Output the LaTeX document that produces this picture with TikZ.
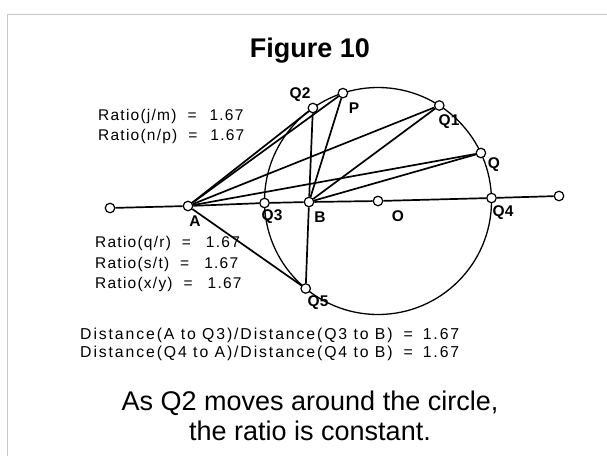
\documentclass[tikz,border=0pt]{standalone}
\usepackage{fontspec}
\setmainfont{Liberation Sans}
\newfontfamily\distfont[LetterSpace=12]{Liberation Sans}
\newfontfamily\ratiofont[LetterSpace=8]{Liberation Sans}
\newfontfamily\lblfont[LetterSpace=2]{Liberation Sans}
\begin{document}
\begin{tikzpicture}[x=1pt,y=-1pt,
  mk/.style={circle,draw,fill=white,line width=1.2pt,inner sep=0pt,minimum size=9.5pt},
  seg/.style={line width=1.7pt},
  lbl/.style={inner sep=0pt,font=\fontsize{15.5}{15.5}\selectfont\lblfont\bfseries},
  ratio/.style={inner sep=0pt,anchor=base west,font=\fontsize{15.5}{15.5}\selectfont\ratiofont},
  dist/.style={inner sep=0pt,anchor=base west,font=\fontsize{15.8}{15.8}\selectfont\distfont},
  big/.style={inner sep=0pt,anchor=base,font=\fontsize{27}{27}\selectfont},
  frame/.style={draw=black!22,line width=1pt}]
\useasboundingbox (0,0) rectangle (607,456);
% frame of the scanned panel
\coordinate (f1) at (7,456);
\coordinate (f2) at (7,14);
\coordinate (f3) at (607,14);
\draw[frame] (f1) -- (f2) -- (f3);
% title
\node[inner sep=0pt,anchor=base,font=\fontsize{27}{27}\selectfont\bfseries] (title) at (310,57) {Figure 10};
% circle
\coordinate (Oc) at (378,201);
\draw[line width=1.3pt] (Oc) circle[radius=113.5pt];
% points
\node[mk] (L)  at (110,208) {};
\node[mk] (A)  at (188,206) {};
\node[mk] (Q3) at (264.5,203) {};
\node[mk] (B)  at (309,202) {};
\node[mk] (O)  at (378,201) {};
\node[mk] (Q4) at (491.5,198) {};
\node[mk] (R)  at (559,196) {};
\node[mk] (Q2) at (312.9,108) {};
\node[mk] (P)  at (342.9,93.1) {};
\node[mk] (Q1) at (439.3,105.5) {};
\node[mk] (Q)  at (480.9,153) {};
\node[mk] (Q5) at (305.7,288.5) {};
% main line
\draw[seg] (L) -- (A) -- (Q3) -- (B) -- (O) -- (Q4) -- (R);
% lines from A and B
\foreach \t in {Q2,P,Q1,Q,Q5} {
  \draw[seg] (A) -- (\t);
  \draw[seg] (B) -- (\t);
}
% point labels
\node[lbl] (lQ2) at (300,95) {Q2};
\node[lbl] (lP)  at (354,108) {P};
\node[lbl] (lQ1) at (449,122) {Q1};
\node[lbl] (lQ)  at (494,165) {Q};
\node[lbl] (lQ4) at (503,213) {Q4};
\node[lbl] (lQ3) at (272,217) {Q3};
\node[lbl] (lB)  at (320,217) {B};
\node[lbl] (lO)  at (398,216) {O};
\node[lbl] (lA)  at (195,221) {A};
\node[lbl] (lQ5) at (318,303) {Q5};
% ratio texts
\node[ratio] (r1) at (98,120) {Ratio(j/m)\hspace{11pt}=\hspace{13pt}1.67};
\node[ratio] (r2) at (98,140) {Ratio(n/p)\hspace{11pt}=\hspace{13pt}1.67};
\node[ratio] (r3) at (95,247) {Ratio(q/r)\hspace{11pt}=\hspace{15pt}1.67};
\node[ratio] (r4) at (95,268) {Ratio(s/t)\hspace{11pt}=\hspace{15pt}1.67};
\node[ratio] (r5) at (95,288) {Ratio(x/y)\hspace{11pt}=\hspace{15pt}1.67};
% distance texts
\node[dist] (d1) at (80,339) {Distance(A to Q3)/Distance(Q3 to B)\hspace{11pt}=\hspace{10pt}1.67};
\node[dist] (d2) at (80,357) {Distance(Q4 to A)/Distance(Q4 to B)\hspace{11pt}=\hspace{10pt}1.67};
% caption
\node[big] (c1) at (310,410) {As Q2 moves around the circle,};
\node[big] (c2) at (310,440) {the ratio is constant.};
\end{tikzpicture}
\end{document}
